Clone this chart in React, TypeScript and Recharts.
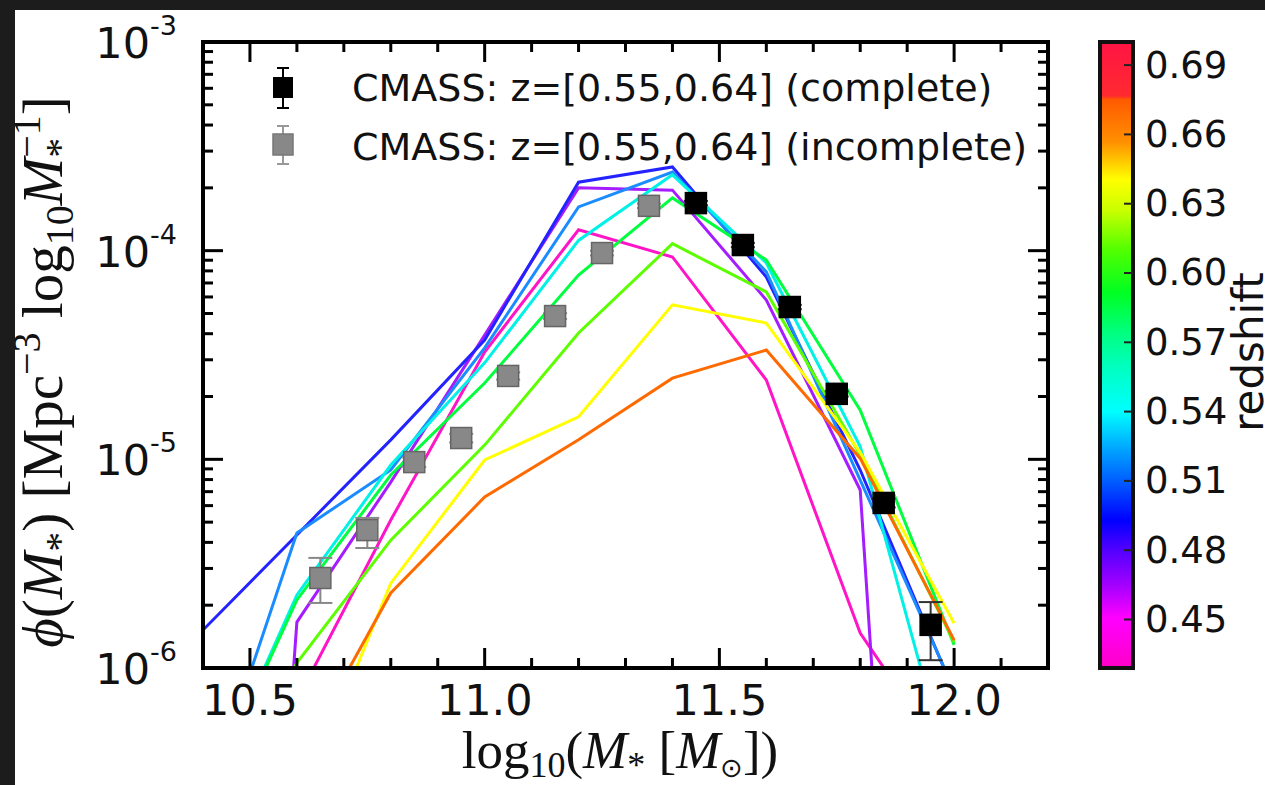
import React from 'react';
import { ComposedChart, Line, Scatter, XAxis, YAxis, ErrorBar } from 'recharts';

// ---------- data ----------
const massGrid = [10.4, 10.6, 10.8, 11.0, 11.2, 11.4, 11.6, 11.8, 12.0];

const phiZ044 = [1.0e-7, 7.0e-7, 5.12e-6, 3.27e-5, 1.26e-4, 9.33e-5, 2.4e-5, 1.47e-6, 3.2e-7];
const phiZ047 = [1e-12, 1.66e-6, 7.78e-6, 3.94e-5, 2.0e-4, 1.95e-4, 5.8e-5, 7.13e-6, 1e-12];
const phiZ050 = [1.52e-6, 4.34e-6, 1.24e-5, 3.73e-5, 2.13e-4, 2.52e-4, 7.48e-5, 8.89e-6, 7.67e-7];
const phiZ052 = [2.0e-7, 4.44e-6, 8.89e-6, 3.42e-5, 1.62e-4, 2.38e-4, 7.91e-5, 7.96e-6, 7.85e-7];
const phiZ055 = [2.2e-7, 2.24e-6, 9.39e-6, 2.9e-5, 1.12e-4, 2.31e-4, 8.73e-5, 1.15e-5, 2.6e-7];
const phiZ058 = [2.2e-7, 2.12e-6, 8.41e-6, 2.32e-5, 7.64e-5, 1.79e-4, 9.02e-5, 1.72e-5, 1.29e-6];
const phiZ061 = [1.5e-7, 1.06e-6, 4.1e-6, 1.17e-5, 4.03e-5, 1.08e-4, 6.34e-5, 1.05e-5, 1.33e-6];
const phiZ064 = [1e-8, 2.0e-7, 2.55e-6, 9.93e-6, 1.6e-5, 5.5e-5, 4.5e-5, 1.08e-5, 1.64e-6];
const phiZ067 = [1e-8, 3.5e-7, 2.29e-6, 6.6e-6, 1.24e-5, 2.45e-5, 3.34e-5, 1.01e-5, 1.36e-6];

const modelSeries = [
  { id: 'z044', color: '#ff14c8', values: phiZ044 },
  { id: 'z047', color: '#a51cff', values: phiZ047 },
  { id: 'z050', color: '#2323ff', values: phiZ050 },
  { id: 'z052', color: '#1a8cff', values: phiZ052 },
  { id: 'z055', color: '#00f2e6', values: phiZ055 },
  { id: 'z058', color: '#00ff3c', values: phiZ058 },
  { id: 'z061', color: '#5cff00', values: phiZ061 },
  { id: 'z064', color: '#ffff00', values: phiZ064 },
  { id: 'z067', color: '#ff6a00', values: phiZ067 },
];

const completeMass = [11.45, 11.55, 11.65, 11.75, 11.85, 11.95];
const completePhi = [1.69e-4, 1.064e-4, 5.37e-5, 2.06e-5, 6.18e-6, 1.61e-6];
const completeErrLo = [4e-6, 2.5e-6, 1.3e-6, 6e-7, 3e-7, 5.2e-7];
const completeErrHi = [4e-6, 2.5e-6, 1.3e-6, 6e-7, 3e-7, 4.6e-7];

const incompleteMass = [10.65, 10.75, 10.85, 10.95, 11.05, 11.15, 11.25, 11.35];
const incompletePhi = [2.7e-6, 4.58e-6, 9.7e-6, 1.265e-5, 2.51e-5, 4.86e-5, 9.74e-5, 1.64e-4];
const incompleteErrLo = [6.5e-7, 8.2e-7, 5e-7, 6e-7, 1e-6, 1.5e-6, 2.5e-6, 4e-6];
const incompleteErrHi = [6.7e-7, 6.6e-7, 5e-7, 6e-7, 1e-6, 1.5e-6, 2.5e-6, 4e-6];

const xTicks = [10.5, 10.6, 10.7, 10.8, 10.9, 11.0, 11.1, 11.2, 11.3, 11.4, 11.5, 11.6, 11.7, 11.8, 11.9, 12.0, 12.1];
const yTicks = [
  1e-6, 2e-6, 3e-6, 4e-6, 5e-6, 6e-6, 7e-6, 8e-6, 9e-6,
  1e-5, 2e-5, 3e-5, 4e-5, 5e-5, 6e-5, 7e-5, 8e-5, 9e-5,
  1e-4, 2e-4, 3e-4, 4e-4, 5e-4, 6e-4, 7e-4, 8e-4, 9e-4, 1e-3,
];

const legendLabels = ['CMASS: z=[0.55,0.64] (complete)', 'CMASS: z=[0.55,0.64] (incomplete)'];
const cbarTicks = [0.45, 0.48, 0.51, 0.54, 0.57, 0.6, 0.63, 0.66, 0.69];
const cbarRange = [0.429, 0.7];
const cbarStops = [
  { o: 0, c: '#ff1444' },
  { o: 0.086, c: '#ff2a30' },
  { o: 0.092, c: '#ff5a00' },
  { o: 0.16, c: '#ff9000' },
  { o: 0.22, c: '#ffff00' },
  { o: 0.27, c: '#c8ff00' },
  { o: 0.33, c: '#55ff00' },
  { o: 0.4, c: '#00ff22' },
  { o: 0.465, c: '#00ff80' },
  { o: 0.52, c: '#00ffc0' },
  { o: 0.59, c: '#00ffff' },
  { o: 0.65, c: '#00a5ff' },
  { o: 0.7, c: '#0060ff' },
  { o: 0.764, c: '#0000ff' },
  { o: 0.81, c: '#5000ff' },
  { o: 0.866, c: '#a000ff' },
  { o: 0.92, c: '#ff00ff' },
  { o: 1, c: '#ff00c8' },
];

// ---------- layout ----------
const W = 1265;
const H = 785;
const PLOT = { left: 203, top: 42, right: 1048, bottom: 668 };
const AX = { bottom: 60, top: 20, left: 80, right: 20 };
const CB = { x: 1100, y: 42, w: 33, h: 626 };
const SANS = 'DejaVu Sans, Verdana, sans-serif';
const SERIF = 'Liberation Serif, DejaVu Serif, serif';

const isMajorX = (v: number) => Math.abs(v * 2 - Math.round(v * 2)) < 1e-6;
const isMajorY = (v: number) => Math.abs(Math.log10(v) - Math.round(Math.log10(v))) < 1e-6;

const XTick = (side: 'bottom' | 'top') => (props: any) => {
  const { x, y, payload } = props;
  const v = payload.value as number;
  const major = isMajorX(v);
  const len = major ? 20 : 10;
  const dir = side === 'bottom' ? -1 : 1;
  return (
    <g>
      <line x1={x} x2={x} y1={y} y2={y + dir * len} stroke="#000" strokeWidth={3} />
      {side === 'bottom' && major && (
        <text x={x} y={y + 47} textAnchor="middle" fontSize={43} fontFamily={SANS} fill="#111">
          {v.toFixed(1)}
        </text>
      )}
    </g>
  );
};

const YTick = (side: 'left' | 'right') => (props: any) => {
  const { x, y, payload } = props;
  const v = payload.value as number;
  const major = isMajorY(v);
  const len = major ? 20 : 10;
  const dir = side === 'left' ? 1 : -1;
  const exp = Math.round(Math.log10(v));
  return (
    <g>
      <line x1={x} x2={x + dir * len} y1={y} y2={y} stroke="#000" strokeWidth={3} />
      {side === 'left' && major && (
        <text x={x - 26} y={y + 16} textAnchor="end" fontSize={43} fontFamily={SANS} fill="#111">
          10
          <tspan fontSize={27} dy={-23}>{String(exp)}</tspan>
        </text>
      )}
    </g>
  );
};

const squareShape = (fill: string, stroke: string) => (props: any) => {
  const { cx, cy } = props;
  if (cx == null || cy == null) return <g />;
  return <rect x={cx - 10.5} y={cy - 10.5} width={21} height={21} fill={fill} stroke={stroke} strokeWidth={1.5} />;
};

const toPts = (xs: number[], ys: number[]) => xs.map((x, i) => ({ x, y: ys[i] }));
const toErrPts = (xs: number[], ys: number[], lo: number[], hi: number[]) =>
  xs.map((x, i) => ({ x, y: ys[i], err: [lo[i], hi[i]] }));

const zToY = (z: number) => CB.y + CB.h - ((z - cbarRange[0]) / (cbarRange[1] - cbarRange[0])) * CB.h;

export default function App() {
  return (
    <div style={{ position: 'absolute', left: 0, top: 0, width: W, height: H, background: '#fff' }}>
      <ComposedChart
        width={W}
        height={H}
        margin={{
          top: PLOT.top - AX.top,
          left: PLOT.left - AX.left,
          right: W - PLOT.right - AX.right,
          bottom: H - PLOT.bottom - AX.bottom,
        }}
      >
        <XAxis
          xAxisId="b"
          dataKey="x"
          type="number"
          domain={[10.4, 12.2]}
          allowDataOverflow
          ticks={xTicks}
          interval={0}
          height={AX.bottom}
          tickSize={0}
          tickMargin={0}
          axisLine={false}
          tickLine={false}
          tick={XTick('bottom')}
        />
        <XAxis
          xAxisId="t"
          orientation="top"
          dataKey="x"
          type="number"
          domain={[10.4, 12.2]}
          allowDataOverflow
          ticks={xTicks}
          interval={0}
          height={AX.top}
          tickSize={0}
          tickMargin={0}
          axisLine={false}
          tickLine={false}
          tick={XTick('top')}
        />
        <YAxis
          yAxisId="l"
          dataKey="y"
          type="number"
          scale="log"
          domain={[1e-6, 1e-3]}
          allowDataOverflow
          ticks={yTicks}
          interval={0}
          width={AX.left}
          tickSize={0}
          tickMargin={0}
          axisLine={false}
          tickLine={false}
          tick={YTick('left')}
        />
        <YAxis
          yAxisId="r"
          orientation="right"
          dataKey="y"
          type="number"
          scale="log"
          domain={[1e-6, 1e-3]}
          allowDataOverflow
          ticks={yTicks}
          interval={0}
          width={AX.right}
          tickSize={0}
          tickMargin={0}
          axisLine={false}
          tickLine={false}
          tick={YTick('right')}
        />
        {modelSeries.map((s) => (
          <Line
            key={s.id}
            xAxisId="b"
            yAxisId="l"
            data={toPts(massGrid, s.values)}
            dataKey="y"
            type="linear"
            stroke={s.color}
            strokeWidth={3}
            dot={false}
            activeDot={false}
            isAnimationActive={false}
          />
        ))}
        <Scatter
          xAxisId="b"
          yAxisId="l"
          data={toErrPts(incompleteMass, incompletePhi, incompleteErrLo, incompleteErrHi)}
          dataKey="y"
          shape={squareShape('#888888', '#666666')}
          isAnimationActive={false}
        >
          <ErrorBar dataKey="err" direction="y" width={12} stroke="#888" strokeWidth={2} />
        </Scatter>
        <Scatter
          xAxisId="b"
          yAxisId="l"
          data={toErrPts(completeMass, completePhi, completeErrLo, completeErrHi)}
          dataKey="y"
          shape={squareShape('#000000', '#000000')}
          isAnimationActive={false}
        >
          <ErrorBar dataKey="err" direction="y" width={12} stroke="#333" strokeWidth={2} />
        </Scatter>
      </ComposedChart>

      <svg
        width={W}
        height={H}
        style={{ position: 'absolute', left: 0, top: 0, pointerEvents: 'none' }}
      >
        <defs>
          <linearGradient id="cbar" x1="0" y1="0" x2="0" y2="1">
            {cbarStops.map((s, i) => (
              <stop key={i} offset={s.o} stopColor={s.c} />
            ))}
          </linearGradient>
        </defs>

        {/* plot frame */}
        <rect
          x={PLOT.left}
          y={PLOT.top}
          width={PLOT.right - PLOT.left}
          height={PLOT.bottom - PLOT.top}
          fill="none"
          stroke="#000"
          strokeWidth={4}
        />

        {/* legend */}
        <g>
          <line x1={283} x2={283} y1={68} y2={108} stroke="#000" strokeWidth={2} />
          <line x1={277} x2={289} y1={68} y2={68} stroke="#000" strokeWidth={2} />
          <line x1={277} x2={289} y1={108} y2={108} stroke="#000" strokeWidth={2} />
          <rect x={273} y={77} width={20} height={21} fill="#000" />
          <text x={352} y={88} dominantBaseline="central" fontSize={38} fontFamily={SANS} fill="#111">
            {legendLabels[0]}
          </text>
          <line x1={283} x2={283} y1={126} y2={164} stroke="#999" strokeWidth={2} />
          <line x1={277} x2={289} y1={126} y2={126} stroke="#999" strokeWidth={2} />
          <line x1={277} x2={289} y1={164} y2={164} stroke="#999" strokeWidth={2} />
          <rect x={273} y={134} width={20} height={21} fill="#888" stroke="#777" strokeWidth={1.5} />
          <text x={352} y={147} dominantBaseline="central" fontSize={38} fontFamily={SANS} fill="#111">
            {legendLabels[1]}
          </text>
        </g>

        {/* colorbar */}
        <rect x={CB.x} y={CB.y} width={CB.w} height={CB.h} fill="url(#cbar)" stroke="#111" strokeWidth={4} />
        {cbarTicks.map((t) => (
          <g key={t}>
            <line x1={CB.x + CB.w - 9} x2={CB.x + CB.w} y1={zToY(t)} y2={zToY(t)} stroke="#222" strokeWidth={2} />
            <text x={1145} y={zToY(t)} dominantBaseline="central" fontSize={37} fontFamily={SANS} fill="#111">
              {t.toFixed(2)}
            </text>
          </g>
        ))}
        <text
          x={1263}
          y={352}
          transform="rotate(-90 1263 352)"
          textAnchor="middle"
          fontSize={42}
          fontFamily={SANS}
          fill="#111"
        >
          redshift
        </text>

        {/* axis labels */}
        <text x={620} y={768} textAnchor="middle" fontSize={53} fontFamily={SERIF} fill="#111">
          log
          <tspan fontSize={36} dy={9}>10</tspan>
          <tspan dy={-9}>(</tspan>
          <tspan fontStyle="italic">M</tspan>
          <tspan fontSize={36} dy={9}>*</tspan>
          <tspan dy={-9}> [</tspan>
          <tspan fontStyle="italic">M</tspan>
          <tspan fontSize={27} dy={9} fontFamily={SANS}>⊙</tspan>
          <tspan dy={-9}>])</tspan>
        </text>
        <text
          x={62}
          y={372}
          transform="rotate(-90 62 372)"
          textAnchor="middle"
          fontSize={57}
          fontFamily={SERIF}
          fill="#111"
        >
          <tspan fontStyle="italic">ϕ</tspan>
          (
          <tspan fontStyle="italic">M</tspan>
          <tspan fontSize={40} dy={11}>*</tspan>
          <tspan dy={-11}>) [Mpc</tspan>
          <tspan fontSize={40} dy={-22}>−3</tspan>
          <tspan dy={22}> log</tspan>
          <tspan fontSize={40} dy={11}>10</tspan>
          <tspan dy={-11} fontStyle="italic">M</tspan>
          <tspan fontSize={40} dy={11}>*</tspan>
          <tspan fontSize={40} dx={-20} dy={-33}>−1</tspan>
          <tspan dy={22}>]</tspan>
        </text>

        {/* dark frame */}
        <rect x={0} y={0} width={W} height={10} fill="#1c1c1c" />
        <rect x={0} y={0} width={15} height={H} fill="#1c1c1c" />
      </svg>
    </div>
  );
}
